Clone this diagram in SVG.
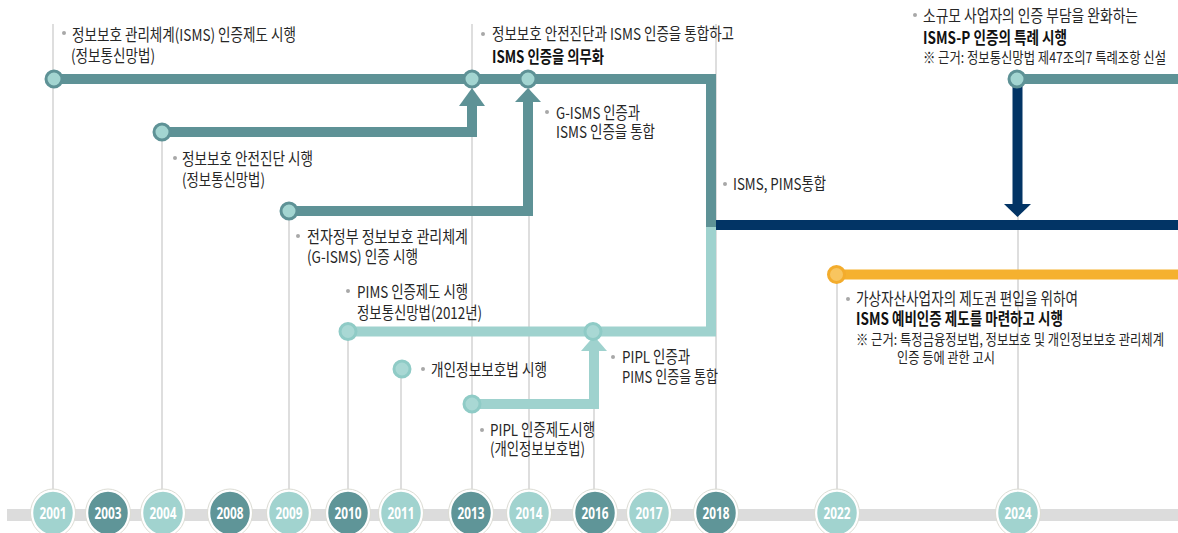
<svg xmlns="http://www.w3.org/2000/svg" width="1178" height="533" viewBox="0 0 1178 533">
<style>
.t{font-family:"Noto Sans CJK KR","Noto Sans",sans-serif;font-size:16.5px;fill:#262626;}
.b{font-weight:bold;fill:#111;}
.s{font-size:15px;}
.bul{fill:#a8a8a8;}
.g{stroke:#d3d3d3;stroke-width:1.5;fill:none;}
.dk{stroke:#5e9296;stroke-width:10;fill:none;}
.lt{stroke:#9fd2ce;stroke-width:10;fill:none;}
.nv{stroke:#023465;stroke-width:10;fill:none;}
.or{stroke:#f5b12f;stroke-width:10;fill:none;}
.cd{fill:#a3d5d1;stroke:#5e9296;stroke-width:3;}
.cl{fill:#a9d8d4;stroke:#8fcbc6;stroke-width:3;}
.co{fill:#f8c55f;stroke:#f3ac2c;stroke-width:3;}
.yl{fill:#a1d3cf;}
.yd{fill:#5f9598;}
.yb{stroke:#ffffff;stroke-width:2.5;}
.yo{fill:none;stroke:#dcdcd4;stroke-width:1;}
.yt{font-family:"Noto Sans","Liberation Sans",sans-serif;font-size:16px;font-weight:bold;fill:#ffffff;text-anchor:middle;}
</style>
<rect width="1178" height="533" fill="#ffffff"/>
<g id="guides">
<line class="g" x1="53" y1="24" x2="53" y2="492"/>
<line class="g" x1="162" y1="132" x2="162" y2="492"/>
<line class="g" x1="289" y1="211" x2="289" y2="492"/>
<line class="g" x1="348" y1="331" x2="348" y2="492"/>
<line class="g" x1="401" y1="369" x2="401" y2="492"/>
<line class="g" x1="472" y1="24" x2="472" y2="492"/>
<line class="g" x1="529" y1="79" x2="529" y2="492"/>
<line class="g" x1="594" y1="331" x2="594" y2="492"/>
<line class="g" x1="716" y1="24" x2="716" y2="492"/>
<line class="g" x1="837" y1="274" x2="837" y2="492"/>
<line class="g" x1="1018" y1="79" x2="1018" y2="492"/>
</g>
<rect id="axis" x="7" y="509" width="1171" height="12" fill="#dcdcdc"/>
<g id="connectors">
<path class="lt" d="M348,331.5 H711 V227"/>
<path class="dk" d="M53,79 H711 V227"/>
<path class="dk" d="M162,132 H472 V104"/>
<polygon fill="#5e9296" points="459,106 485,106 472,88"/>
<path class="dk" d="M289,211 H528 V100"/>
<polygon fill="#5e9296" points="515,102 541,102 528,88"/>
<path class="lt" d="M472,404 H594 V349"/>
<polygon fill="#9fd2ce" points="581,351 607,351 594,336"/>
<path class="dk" d="M1017,79 H1178"/>
<path class="nv" d="M716,225 H1178"/>
<path class="nv" d="M1017.5,79 V205"/>
<polygon fill="#023465" points="1004,204 1031,204 1017.5,217"/>
<path class="or" d="M836,274.5 H1178"/>
</g>
<g id="n2001">
<circle class="cd" cx="54" cy="79" r="8"/>
<circle class="bul" cx="64" cy="33" r="2"/>
<text class="t" transform="translate(72,41) scale(0.85,1)" textLength="263.5" lengthAdjust="spacingAndGlyphs">정보보호 관리체계(ISMS) 인증제도 시행</text>
<text class="t" transform="translate(71,62) scale(0.85,1)" textLength="98.8" lengthAdjust="spacingAndGlyphs">(정보통신망법)</text>
</g>
<g id="n2004">
<circle class="cd" cx="162" cy="132" r="8"/>
<circle class="bul" cx="175" cy="158" r="2"/>
<text class="t" transform="translate(182,165) scale(0.85,1)" textLength="154.1" lengthAdjust="spacingAndGlyphs">정보보호 안전진단 시행</text>
<text class="t" transform="translate(182,186) scale(0.85,1)" textLength="97.6" lengthAdjust="spacingAndGlyphs">(정보통신망법)</text>
</g>
<g id="n2013top">
<circle class="cd" cx="472" cy="79" r="8"/>
<circle class="bul" cx="483" cy="34" r="2"/>
<text class="t" transform="translate(492,40) scale(0.85,1)" textLength="284.7" lengthAdjust="spacingAndGlyphs">정보보호 안전진단과 ISMS 인증을 통합하고</text>
<text class="t b" transform="translate(492,63) scale(0.85,1)" textLength="131.8" lengthAdjust="spacingAndGlyphs">ISMS 인증을 의무화</text>
</g>
<g id="n2014">
<circle class="cd" cx="528" cy="79" r="8"/>
<circle class="bul" cx="547" cy="112" r="2"/>
<text class="t" transform="translate(556,119) scale(0.85,1)" textLength="98.8" lengthAdjust="spacingAndGlyphs">G-ISMS 인증과</text>
<text class="t" transform="translate(556,138) scale(0.85,1)" textLength="116.5" lengthAdjust="spacingAndGlyphs">ISMS 인증을 통합</text>
</g>
<g id="n2018">
<circle class="bul" cx="725" cy="184" r="2"/>
<text class="t" transform="translate(733,190) scale(0.85,1)" textLength="109.4" lengthAdjust="spacingAndGlyphs">ISMS, PIMS통합</text>
</g>
<g id="n2024">
<circle class="cd" cx="1017" cy="79" r="8"/>
<circle class="bul" cx="915" cy="15" r="2"/>
<text class="t" transform="translate(923,22) scale(0.85,1)" textLength="252.9" lengthAdjust="spacingAndGlyphs">소규모 사업자의 인증 부담을 완화하는</text>
<text class="t b" transform="translate(923,44) scale(0.85,1)" textLength="169.4" lengthAdjust="spacingAndGlyphs">ISMS-P 인증의 특례 시행</text>
<text class="t s" transform="translate(923,63) scale(0.75,1)" textLength="324" lengthAdjust="spacingAndGlyphs">※ 근거: 정보통신망법 제47조의7 특례조항 신설</text>
</g>
<g id="n2009">
<circle class="cd" cx="289" cy="211" r="8"/>
<circle class="bul" cx="298" cy="236" r="2"/>
<text class="t" transform="translate(307,243) scale(0.85,1)" textLength="189.4" lengthAdjust="spacingAndGlyphs">전자정부 정보보호 관리체계</text>
<text class="t" transform="translate(307,263) scale(0.85,1)" textLength="130.6" lengthAdjust="spacingAndGlyphs">(G-ISMS) 인증 시행</text>
</g>
<g id="n2010">
<circle class="cl" cx="348" cy="331.5" r="8"/>
<circle class="bul" cx="348" cy="291" r="2"/>
<text class="t" transform="translate(357,298) scale(0.85,1)" textLength="130.6" lengthAdjust="spacingAndGlyphs">PIMS 인증제도 시행</text>
<text class="t" transform="translate(357,319) scale(0.85,1)" textLength="147.1" lengthAdjust="spacingAndGlyphs">정보통신망법(2012년)</text>
</g>
<g id="n2011">
<circle class="cl" cx="402" cy="369" r="8"/>
<circle class="bul" cx="423" cy="369" r="2"/>
<text class="t" transform="translate(431,376) scale(0.85,1)" textLength="136.5" lengthAdjust="spacingAndGlyphs">개인정보보호법 시행</text>
</g>
<g id="n2013pipl">
<circle class="cl" cx="472" cy="404" r="8"/>
<circle class="bul" cx="482" cy="430" r="2"/>
<text class="t" transform="translate(490,436) scale(0.85,1)" textLength="123.5" lengthAdjust="spacingAndGlyphs">PIPL 인증제도시행</text>
<text class="t" transform="translate(490,455) scale(0.85,1)" textLength="111.8" lengthAdjust="spacingAndGlyphs">(개인정보보호법)</text>
</g>
<g id="n2016">
<circle class="cl" cx="593" cy="331.5" r="8"/>
<circle class="bul" cx="613" cy="357" r="2"/>
<text class="t" transform="translate(622,363) scale(0.85,1)" textLength="80" lengthAdjust="spacingAndGlyphs">PIPL 인증과</text>
<text class="t" transform="translate(622,383) scale(0.85,1)" textLength="112.9" lengthAdjust="spacingAndGlyphs">PIMS 인증을 통합</text>
</g>
<g id="n2022">
<circle class="co" cx="836.5" cy="274.5" r="8"/>
<circle class="bul" cx="848" cy="299" r="2"/>
<text class="t" transform="translate(856,305) scale(0.85,1)" textLength="261.2" lengthAdjust="spacingAndGlyphs">가상자산사업자의 제도권 편입을 위하여</text>
<text class="t b" transform="translate(856,325) scale(0.85,1)" textLength="243.5" lengthAdjust="spacingAndGlyphs">ISMS 예비인증 제도를 마련하고 시행</text>
<text class="t s" transform="translate(856,345) scale(0.75,1)" textLength="410.7" lengthAdjust="spacingAndGlyphs">※ 근거: 특정금융정보법, 정보보호 및 개인정보보호 관리체계</text>
<text class="t s" transform="translate(897,363) scale(0.75,1)" textLength="130.7" lengthAdjust="spacingAndGlyphs">인증 등에 관한 고시</text>
</g>
<g id="years">
<g id="y2001"><ellipse class="yl yb" cx="53" cy="513" rx="21" ry="22.5"/><ellipse class="yo" cx="53" cy="513" rx="22.5" ry="24"/><text class="yt" x="53" y="519" textLength="27" lengthAdjust="spacingAndGlyphs">2001</text></g>
<g id="y2003"><ellipse class="yd yb" cx="108" cy="513" rx="21" ry="22.5"/><ellipse class="yo" cx="108" cy="513" rx="22.5" ry="24"/><text class="yt" x="108" y="519" textLength="27" lengthAdjust="spacingAndGlyphs">2003</text></g>
<g id="y2004"><ellipse class="yl yb" cx="163" cy="513" rx="21" ry="22.5"/><ellipse class="yo" cx="163" cy="513" rx="22.5" ry="24"/><text class="yt" x="163" y="519" textLength="27" lengthAdjust="spacingAndGlyphs">2004</text></g>
<g id="y2008"><ellipse class="yd yb" cx="230" cy="513" rx="21" ry="22.5"/><ellipse class="yo" cx="230" cy="513" rx="22.5" ry="24"/><text class="yt" x="230" y="519" textLength="27" lengthAdjust="spacingAndGlyphs">2008</text></g>
<g id="y2009"><ellipse class="yl yb" cx="289" cy="513" rx="21" ry="22.5"/><ellipse class="yo" cx="289" cy="513" rx="22.5" ry="24"/><text class="yt" x="289" y="519" textLength="27" lengthAdjust="spacingAndGlyphs">2009</text></g>
<g id="y2010"><ellipse class="yd yb" cx="348" cy="513" rx="21" ry="22.5"/><ellipse class="yo" cx="348" cy="513" rx="22.5" ry="24"/><text class="yt" x="348" y="519" textLength="27" lengthAdjust="spacingAndGlyphs">2010</text></g>
<g id="y2011"><ellipse class="yl yb" cx="401" cy="513" rx="21" ry="22.5"/><ellipse class="yo" cx="401" cy="513" rx="22.5" ry="24"/><text class="yt" x="401" y="519" textLength="27" lengthAdjust="spacingAndGlyphs">2011</text></g>
<g id="y2013"><ellipse class="yd yb" cx="471" cy="513" rx="21" ry="22.5"/><ellipse class="yo" cx="471" cy="513" rx="22.5" ry="24"/><text class="yt" x="471" y="519" textLength="27" lengthAdjust="spacingAndGlyphs">2013</text></g>
<g id="y2014"><ellipse class="yl yb" cx="529" cy="513" rx="21" ry="22.5"/><ellipse class="yo" cx="529" cy="513" rx="22.5" ry="24"/><text class="yt" x="529" y="519" textLength="27" lengthAdjust="spacingAndGlyphs">2014</text></g>
<g id="y2016"><ellipse class="yd yb" cx="595" cy="513" rx="21" ry="22.5"/><ellipse class="yo" cx="595" cy="513" rx="22.5" ry="24"/><text class="yt" x="595" y="519" textLength="27" lengthAdjust="spacingAndGlyphs">2016</text></g>
<g id="y2017"><ellipse class="yl yb" cx="649" cy="513" rx="21" ry="22.5"/><ellipse class="yo" cx="649" cy="513" rx="22.5" ry="24"/><text class="yt" x="649" y="519" textLength="27" lengthAdjust="spacingAndGlyphs">2017</text></g>
<g id="y2018"><ellipse class="yd yb" cx="716" cy="513" rx="21" ry="22.5"/><ellipse class="yo" cx="716" cy="513" rx="22.5" ry="24"/><text class="yt" x="716" y="519" textLength="27" lengthAdjust="spacingAndGlyphs">2018</text></g>
<g id="y2022"><ellipse class="yl yb" cx="837" cy="513" rx="21" ry="22.5"/><ellipse class="yo" cx="837" cy="513" rx="22.5" ry="24"/><text class="yt" x="837" y="519" textLength="27" lengthAdjust="spacingAndGlyphs">2022</text></g>
<g id="y2024"><ellipse class="yl yb" cx="1018" cy="513" rx="21" ry="22.5"/><ellipse class="yo" cx="1018" cy="513" rx="22.5" ry="24"/><text class="yt" x="1018" y="519" textLength="27" lengthAdjust="spacingAndGlyphs">2024</text></g>
</g>
</svg>
